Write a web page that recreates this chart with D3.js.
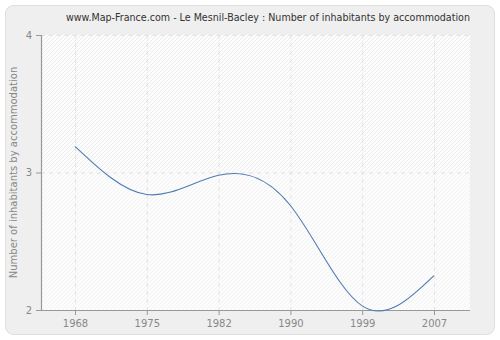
<!DOCTYPE html>
<html><head><meta charset="utf-8">
<script src="https://cdn.jsdelivr.net/npm/d3@7"></script>
<style>body{margin:0;background:#fff;}svg{display:block;}</style>
</head><body>
<script>
const years = ["1968","1975","1982","1990","1999","2007"];
const values = [3.19, 2.84, 2.98, 2.76, 2.03, 2.25];
const yTicks = [2, 3, 4];
const title = "www.Map-France.com - Le Mesnil-Bacley : Number of inhabitants by accommodation";
const yLabel = "Number of inhabitants by accommodation";

const W = 500, H = 340;
const m = {left: 41, right: 30, top: 35, bottom: 30};
const svg = d3.select("body").append("svg").attr("width", W).attr("height", H);
const defs = svg.append("defs");
const p1 = defs.append("pattern").attr("id","hatch1").attr("patternUnits","userSpaceOnUse")
  .attr("width",4).attr("height",4);
p1.append("rect").attr("width",4).attr("height",4).attr("fill","#fdfdfd");
p1.append("path").attr("d","M-1,1 l2,-2 M0,4 l4,-4 M3,5 l2,-2").attr("stroke","#ececec").attr("stroke-width",1);
const p2 = defs.append("pattern").attr("id","hatch2").attr("patternUnits","userSpaceOnUse")
  .attr("width",4).attr("height",4);
p2.append("rect").attr("width",4).attr("height",4).attr("fill","#fcfcfc");
p2.append("path").attr("d","M-1,1 l2,-2 M0,4 l4,-4 M3,5 l2,-2").attr("stroke","#f3f3f3").attr("stroke-width",1);

svg.append("rect").attr("x",5.5).attr("y",5.5).attr("width",W-11).attr("height",H-11)
  .attr("rx",8).attr("fill","#efefef").attr("stroke","#dedede");

const x = d3.scalePoint().domain(years).range([75, 434]);
const y = d3.scaleLinear().domain([2,4]).range([310, 35]);

const pl = m.left, pr = 470, pt = 35, pb = 310;
svg.append("rect").attr("x",pl).attr("y",pt).attr("width",pr-pl).attr("height",y(3)-pt).attr("fill","url(#hatch1)");
svg.append("rect").attr("x",pl).attr("y",y(3)).attr("width",pr-pl).attr("height",pb-y(3)).attr("fill","url(#hatch2)");

// grid
svg.append("g").selectAll("line").data(years).join("line")
  .attr("x1",d=>x(d)+0.5).attr("x2",d=>x(d)+0.5).attr("y1",pt).attr("y2",pb)
  .attr("stroke","#e2e2e2").attr("stroke-dasharray","4,4");
svg.append("g").selectAll("line").data(yTicks.filter(v=>v>2)).join("line")
  .attr("x1",pl).attr("x2",pr).attr("y1",d=>y(d)+0.5).attr("y2",d=>y(d)+0.5)
  .attr("stroke","#e2e2e2").attr("stroke-dasharray","4,4");

// axes
const gx = svg.append("g").attr("transform",`translate(0,${pb})`)
  .call(d3.axisBottom(x).tickSize(5).tickPadding(5));
gx.select(".domain").attr("d",`M${pl},0.5H${pr}`);
const gy = svg.append("g").attr("transform",`translate(${pl},0)`)
  .call(d3.axisLeft(y).tickValues(yTicks).tickFormat(d3.format("d")).tickSize(5).tickPadding(4));
gy.select(".domain").attr("d",`M0.5,${pt}V${pb}`);
[gx,gy].forEach(g=>{
  g.select(".domain").attr("stroke","#999").attr("stroke-width",1.2);
  g.selectAll(".tick line").attr("stroke","#999");
  g.selectAll(".tick text").attr("fill","#888").attr("font-family","DejaVu Sans, sans-serif").attr("font-size",10);
});

// line
const line = d3.line().x((d,i)=>x(years[i])).y(d=>y(d)).curve(d3.curveNatural);
svg.append("path").datum(values).attr("d",line).attr("fill","none")
  .attr("stroke","#4f7db3").attr("stroke-width",1.1);

svg.append("text").attr("x",268).attr("y",21).attr("text-anchor","middle")
  .attr("font-family","DejaVu Sans Condensed, DejaVu Sans, sans-serif").attr("font-size",10.5).attr("fill","#333")
  .attr("textLength",404).attr("lengthAdjust","spacingAndGlyphs").text(title);
svg.append("text").attr("transform",`translate(17,${(pt+pb)/2}) rotate(-90)`)
  .attr("text-anchor","middle").attr("font-family","DejaVu Sans, sans-serif").attr("font-size",10)
  .attr("fill","#888").text(yLabel);
</script>
</body></html>
